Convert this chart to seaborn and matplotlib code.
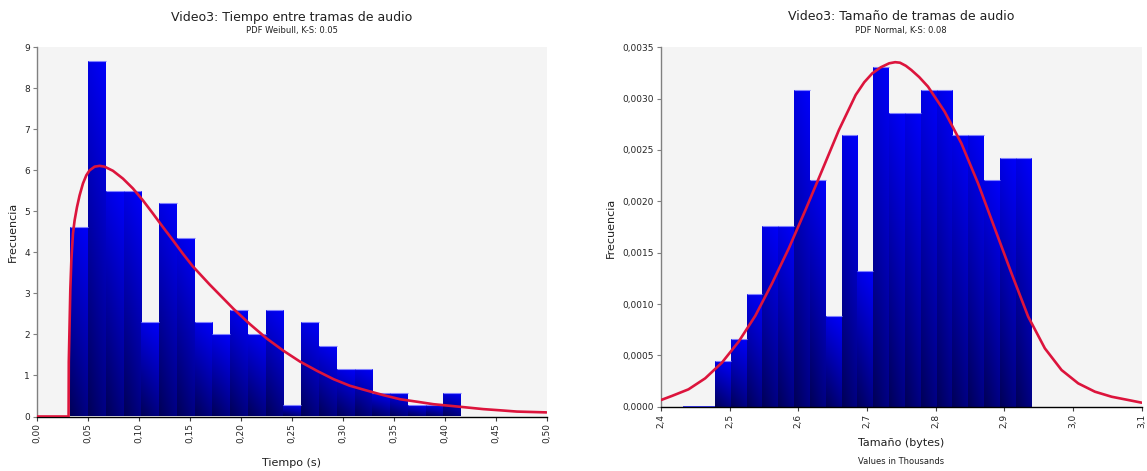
import numpy as np
import pandas as pd
import matplotlib
matplotlib.use("Agg")
import matplotlib.pyplot as plt
from matplotlib.ticker import FuncFormatter
import seaborn as sns

# ---------------- data ----------------
# Left: time between audio frames (s)
t_bin_start = 0.0327
t_bin_width = 0.01743
t_heights = [4.62, 8.67, 5.49, 5.49, 2.31, 5.20, 4.34, 2.31, 2.02, 2.60, 2.02,
             2.60, 0.29, 2.31, 1.73, 1.16, 1.16, 0.58, 0.58, 0.29, 0.29, 0.58]
t_curve_x = [0.000, 0.031, 0.0312, 0.0327, 0.0337, 0.0353, 0.0369, 0.0392, 0.0418,
             0.0451, 0.0484, 0.0516, 0.0565, 0.0614, 0.0663, 0.0745, 0.0843, 0.0941,
             0.1039, 0.1137, 0.1235, 0.1333, 0.1431, 0.1529, 0.1693, 0.193, 0.209,
             0.2255, 0.242, 0.258, 0.275, 0.291, 0.307, 0.324, 0.340, 0.3565, 0.373,
             0.389, 0.4056, 0.422, 0.438, 0.455, 0.471, 0.500]
t_curve_y = [0.0, 0.0, 1.33, 3.10, 3.80, 4.46, 4.78, 5.10, 5.39,
             5.68, 5.88, 6.00, 6.09, 6.11, 6.09, 5.99, 5.80, 5.56,
             5.27, 4.95, 4.62, 4.30, 3.97, 3.66, 3.22, 2.62, 2.25,
             1.90, 1.60, 1.34, 1.11, 0.91, 0.75, 0.63, 0.52, 0.42, 0.36,
             0.30, 0.26, 0.22, 0.18, 0.15, 0.12, 0.10]
t_xticks = [0.00, 0.05, 0.10, 0.15, 0.20, 0.25, 0.30, 0.35, 0.40, 0.45, 0.50]
t_yticks = [0, 1, 2, 3, 4, 5, 6, 7, 8, 9]

# Right: audio frame size (thousands of bytes)
s_bin_start = 2.4326
s_bin_width = 0.02304
s_heights = [0.0, 0.0, 0.000441, 0.000661, 0.001102, 0.001763, 0.001763, 0.003085,
             0.002204, 0.000881, 0.002644, 0.001322, 0.003305, 0.002865, 0.002865,
             0.003085, 0.003085, 0.002644, 0.002644, 0.002204, 0.002424, 0.002424]
s_curve_x = [2.400, 2.4156, 2.440, 2.4643, 2.4887, 2.513, 2.5374, 2.5617, 2.5861,
             2.6104, 2.6348, 2.6591, 2.6835, 2.696, 2.7078, 2.720, 2.7322, 2.741,
             2.748, 2.7565, 2.7645, 2.776, 2.7888, 2.8131, 2.8374, 2.8617, 2.886,
             2.9104, 2.9347, 2.959, 2.9833, 3.0076, 3.0319, 3.0562, 3.0805, 3.100]
s_curve_y = [0.000065, 0.000104, 0.000169, 0.000276, 0.000429, 0.000633, 0.000886,
             0.001201, 0.001542, 0.001916, 0.002305, 0.002695, 0.003036, 0.003160,
             0.003247, 0.003305, 0.003344, 0.003355, 0.003350, 0.003320, 0.003279,
             0.003210, 0.003117, 0.002873, 0.002565, 0.002175, 0.001737, 0.001299,
             0.000877, 0.000568, 0.000357, 0.000227, 0.000146, 0.000097, 0.000065,
             0.000039]
s_xticks = [2.4, 2.5, 2.6, 2.7, 2.8, 2.9, 3.0, 3.1]
s_yticks = [0.0, 0.0005, 0.0010, 0.0015, 0.0020, 0.0025, 0.0030, 0.0035]

titles = ["Video3: Tiempo entre tramas de audio", "Video3: Tamaño de tramas de audio"]
subtitles = ["PDF Weibull, K-S: 0.05", "PDF Normal, K-S: 0.08"]
xlabels = ["Tiempo (s)", "Tamaño (bytes)"]
ylabel = "Frecuencia"
xnote = "Values in Thousands"

# ---------------- style ----------------
sns.set_style("white")
plt.rcParams['font.family'] = ['DejaVu Sans']

W, H = 1147, 471
fig = plt.figure(figsize=(W / 100, H / 100), dpi=100)
fig.patch.set_facecolor("white")

ax1 = fig.add_axes([37 / W, (H - 416.5) / H, 509.5 / W, 369.2 / H])
ax2 = fig.add_axes([661 / W, (H - 406.7) / H, 480.7 / W, 359.4 / H])

# 2-D shading for the bars: darker at bottom and on the left side of each bar
_yf = np.linspace(0, 1, 96).reshape(-1, 1)
_xf = np.linspace(0, 1, 32).reshape(1, -1)
_blue = np.clip(0.52 + 0.46 * _yf - 0.18 * (1 - _xf) * (1 - 0.5 * _yf), 0, 1)
bar_rgb = np.zeros((96, 32, 3))
bar_rgb[..., 2] = _blue
curve_color = "#dc143c"


def draw_hist(ax, start, width, heights):
    n = len(heights)
    offsets = np.arange(n) + 0.5
    centers = start + width * offsets
    df = pd.DataFrame({"x": centers, "w": np.asarray(heights, dtype=float)})
    sns.histplot(data=df, x="x", weights="w", bins=n,
                 binrange=(start, start + width * n), stat="count",
                 ax=ax, element="bars", fill=True, legend=False)
    for p in list(ax.patches):
        x0, y0 = p.get_x(), p.get_y()
        w, h = p.get_width(), p.get_height()
        p.set_facecolor("none")
        p.set_zorder(2.2)
        if h <= 0:
            p.set_edgecolor("#2a2aff")
            p.set_linewidth(1.3)
            continue
        p.set_edgecolor("none")
        im = ax.imshow(bar_rgb, origin="lower", aspect="auto",
                       extent=[x0, x0 + w, y0, y0 + h], zorder=2, interpolation="bilinear")
        im.set_clip_path(p)
        ax.plot([x0, x0 + w], [y0 + h, y0 + h], color="#8080ff", lw=0.8, zorder=2.3,
                solid_capstyle="butt")


def style_axes(ax, xticks, yticks, xfmt, yfmt):
    ax.set_facecolor("#f4f4f4")
    for s in ["top", "right"]:
        ax.spines[s].set_visible(False)
    ax.spines["left"].set_color("#808080")
    ax.spines["left"].set_linewidth(1.0)
    ax.spines["bottom"].set_color("#000000")
    ax.spines["bottom"].set_linewidth(1.0)
    ax.set_xticks(xticks)
    ax.set_yticks(yticks)
    ax.xaxis.set_major_formatter(FuncFormatter(xfmt))
    ax.yaxis.set_major_formatter(FuncFormatter(yfmt))
    ax.tick_params(axis="x", direction="out", length=3, width=0.8, color="#404040",
                   labelsize=6.5, labelrotation=90, pad=2, bottom=True)
    ax.tick_params(axis="y", direction="out", length=3, width=0.8, color="#808080",
                   labelsize=6.5, pad=2, left=True)
    ax.set_xlabel("")
    ax.set_ylabel("")
    ax.grid(False)


# Left chart
draw_hist(ax1, t_bin_start, t_bin_width, t_heights)
sns.lineplot(x=t_curve_x, y=t_curve_y, ax=ax1, color=curve_color, linewidth=1.9,
             estimator=None, sort=False, zorder=3)
ax1.set_xlim(0, 0.5)
ax1.set_ylim(0, 9)
style_axes(ax1, t_xticks, t_yticks,
           lambda v, p: f"{v:.2f}".replace(".", ","),
           lambda v, p: f"{v:.0f}")

# Right chart
draw_hist(ax2, s_bin_start, s_bin_width, s_heights)
sns.lineplot(x=s_curve_x, y=s_curve_y, ax=ax2, color=curve_color, linewidth=1.9,
             estimator=None, sort=False, zorder=3)
ax2.set_xlim(2.4, 3.1)
ax2.set_ylim(0, 0.0035)
style_axes(ax2, s_xticks, s_yticks,
           lambda v, p: f"{v:.1f}".replace(".", ","),
           lambda v, p: f"{v:.4f}".replace(".", ","))

for line in ax1.lines + ax2.lines:
    line.set_solid_joinstyle("round")

# Titles and labels
fig.text(292 / W, 1 - 17 / H, titles[0], ha="center", va="center", fontsize=9, color="#202020")
fig.text(292 / W, 1 - 31 / H, subtitles[0], ha="center", va="center", fontsize=6, color="#202020")
fig.text(901 / W, 1 - 17 / H, titles[1], ha="center", va="center", fontsize=9, color="#202020")
fig.text(901 / W, 1 - 31 / H, subtitles[1], ha="center", va="center", fontsize=6, color="#202020")

fig.text(13 / W, 1 - 232 / H, ylabel, ha="center", va="center", rotation=90, fontsize=8, color="#202020")
fig.text(611 / W, 1 - 228 / H, ylabel, ha="center", va="center", rotation=90, fontsize=8, color="#202020")
fig.text(292 / W, 1 - 463 / H, xlabels[0], ha="center", va="center", fontsize=8, color="#202020")
fig.text(901 / W, 1 - 443 / H, xlabels[1], ha="center", va="center", fontsize=8, color="#202020")
fig.text(901 / W, 1 - 462 / H, xnote, ha="center", va="center", fontsize=6, color="#202020")

fig.savefig("out.png", dpi=100, facecolor="white")
